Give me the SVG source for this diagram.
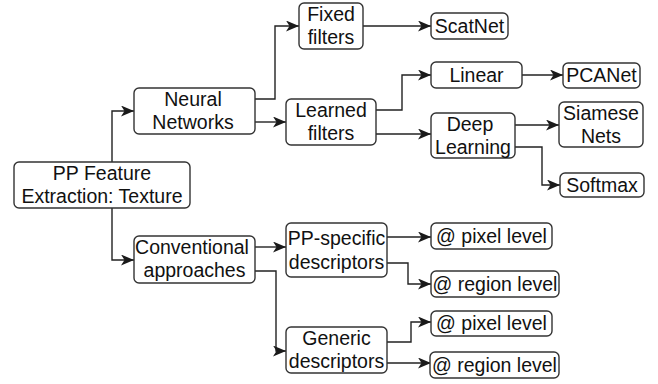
<svg xmlns="http://www.w3.org/2000/svg" width="658" height="384" viewBox="0 0 658 384">
<defs>
<marker id="arr" markerUnits="userSpaceOnUse" markerWidth="16" markerHeight="14" refX="13" refY="5.5" orient="auto" viewBox="0 0 16 14">
<path d="M0,0 L13,5.5 L0,11 L3.5,5.5 Z" fill="#1a1a1a"/>
</marker>
<style>
.b{fill:#fff;stroke:#333;stroke-width:1.4}
.t{font-family:"Liberation Sans",Arial,sans-serif;font-size:19.5px;fill:#111;text-anchor:middle}
.c{fill:none;stroke:#222;stroke-width:1.4;marker-end:url(#arr)}
</style>
</defs>
<rect width="658" height="384" fill="#fff"/>
<g id="connectors">
<path class="c" d="M112,162 V111 H134"/>
<path class="c" d="M112,208 V260 H134"/>
<path class="c" d="M255,99 H275 V26 H299"/>
<path class="c" d="M255,122 H286"/>
<path class="c" d="M363,26 H431"/>
<path class="c" d="M376,110 H402 V75 H431"/>
<path class="c" d="M376,134 H431"/>
<path class="c" d="M522,75 H563"/>
<path class="c" d="M515,125 H559"/>
<path class="c" d="M515,147 H542 V185 H560"/>
<path class="c" d="M255,247 H286"/>
<path class="c" d="M255,271 H276 V351 H286"/>
<path class="c" d="M387,237 H431"/>
<path class="c" d="M387,263 H408 V284 H431"/>
<path class="c" d="M387,342 H411 V322 H431"/>
<path class="c" d="M387,363 H431"/>
</g>
<g id="root"><rect class="b" x="14" y="162" width="176" height="46" rx="5"/><text class="t" x="102" y="180">PP Feature</text><text class="t" x="102" y="203">Extraction: Texture</text></g>
<g id="neural"><rect class="b" x="134" y="88" width="121" height="46" rx="5"/><text class="t" x="193" y="106">Neural</text><text class="t" x="193" y="129">Networks</text></g>
<g id="conventional"><rect class="b" x="134" y="236" width="121" height="47" rx="5"/><text class="t" x="192" y="254">Conventional</text><text class="t" x="194.5" y="277">approaches</text></g>
<g id="fixed"><rect class="b" x="299" y="3" width="64" height="46" rx="5"/><text class="t" x="331" y="21">Fixed</text><text class="t" x="331" y="44">filters</text></g>
<g id="learned"><rect class="b" x="286" y="99" width="90" height="46" rx="5"/><text class="t" x="331" y="117">Learned</text><text class="t" x="331" y="140">filters</text></g>
<g id="scatnet"><rect class="b" x="431" y="13" width="77" height="26" rx="5"/><text class="t" x="469.5" y="32.5">ScatNet</text></g>
<g id="linear"><rect class="b" x="431" y="62" width="91" height="26" rx="5"/><text class="t" x="476.5" y="81.5">Linear</text></g>
<g id="pcanet"><rect class="b" x="563" y="63" width="77" height="25" rx="5"/><text class="t" x="601.5" y="82">PCANet</text></g>
<g id="deep"><rect class="b" x="431" y="113" width="84" height="45" rx="5"/><text class="t" x="470" y="131">Deep</text><text class="t" x="473" y="154">Learning</text></g>
<g id="siamese"><rect class="b" x="559" y="102" width="84" height="45" rx="5"/><text class="t" x="601" y="120">Siamese</text><text class="t" x="601" y="143">Nets</text></g>
<g id="softmax"><rect class="b" x="560" y="173" width="84" height="24" rx="5"/><text class="t" x="602" y="191.5">Softmax</text></g>
<g id="ppspecific"><rect class="b" x="286" y="223" width="101" height="54" rx="5"/><text class="t" x="336.5" y="245">PP-specific</text><text class="t" x="336.5" y="269">descriptors</text></g>
<g id="generic"><rect class="b" x="286" y="327" width="101" height="46" rx="5"/><text class="t" x="336.5" y="345">Generic</text><text class="t" x="336.5" y="368">descriptors</text></g>
<g id="pixel1"><rect class="b" x="431" y="223" width="121" height="26" rx="5"/><text class="t" x="491.5" y="242.5">@ pixel level</text></g>
<g id="region1"><rect class="b" x="431" y="271" width="128" height="26" rx="5"/><text class="t" x="495" y="290.5">@ region level</text></g>
<g id="pixel2"><rect class="b" x="431" y="311" width="121" height="25" rx="5"/><text class="t" x="491.5" y="330">@ pixel level</text></g>
<g id="region2"><rect class="b" x="430" y="352" width="129" height="26" rx="5"/><text class="t" x="494.5" y="371.5">@ region level</text></g>
</svg>
